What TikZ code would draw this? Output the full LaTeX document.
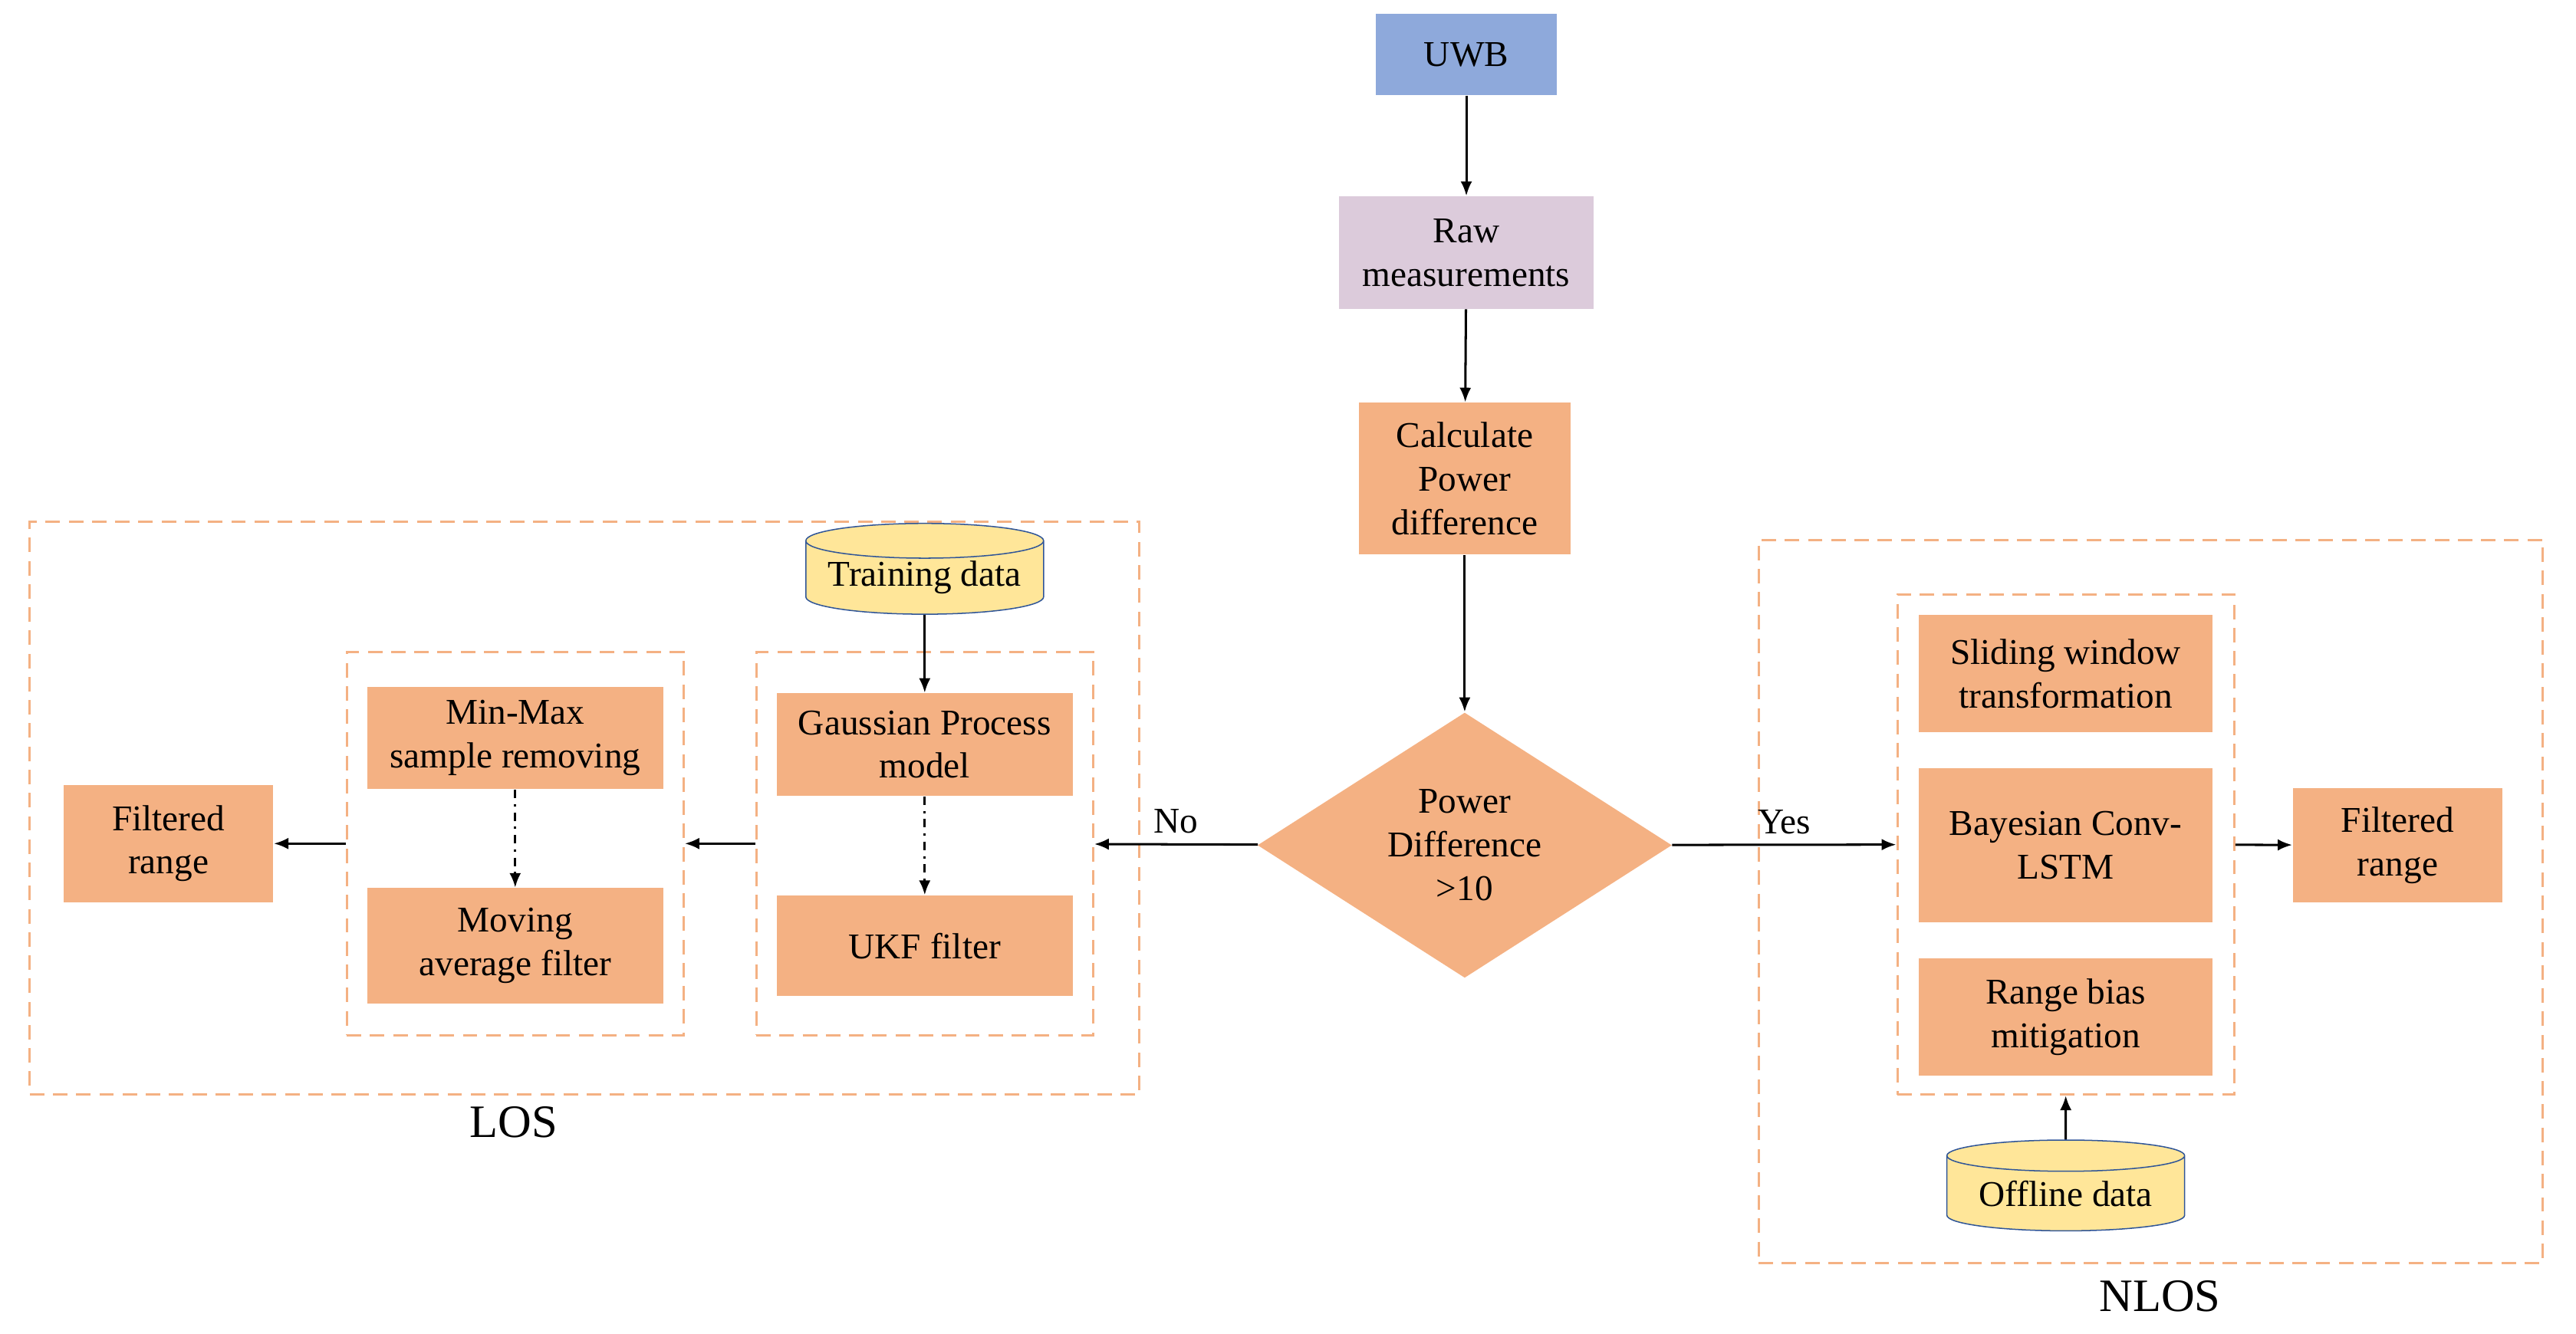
\documentclass[tikz,border=0pt]{standalone}
\usepackage{fontspec}
\setmainfont{Liberation Serif}
\usetikzlibrary{shapes.geometric, arrows.meta}

\definecolor{uwbblue}{HTML}{8EA9DB}
\definecolor{rawpink}{HTML}{DCCBDB}
\definecolor{procorange}{HTML}{F4B183}
\definecolor{datayellow}{HTML}{FFE699}
\definecolor{datablue}{HTML}{2F5597}

\tikzset{
  proc/.style={draw=none, fill=procorange, align=center, inner sep=0pt,
    font=\fontsize{12.5}{15}\selectfont},
  group/.style={draw=procorange, dashed, dash pattern=on 5pt off 3pt,
    thick, inner sep=0pt},
  store/.style={cylinder, shape border rotate=90, aspect=0.18, draw=datablue,
    fill=datayellow, inner sep=0pt, font=\fontsize{12.5}{15}\selectfont},
  flow/.style={-{Latex[length=5pt,width=4pt]}, thick},
  dflow/.style={flow, dash dot},
}

\begin{document}
\begin{tikzpicture}[x=0.02cm,y=-0.02cm]
      \useasboundingbox (0,0) rectangle (1560,808);

      % main column
      \node[proc, fill=uwbblue, minimum width=110*0.02cm, minimum height=49*0.02cm]
            (uwb) at (888,33) {UWB};
      \node[proc, fill=rawpink, minimum width=154*0.02cm, minimum height=68*0.02cm]
            (raw) at (888,153) {Raw\\measurements};
      \node[proc, minimum width=128*0.02cm, minimum height=92*0.02cm]
            (calc) at (887,290) {Calculate\\Power\\difference};
      \node[diamond, fill=procorange, align=center, inner sep=0pt,
            minimum width=251*0.02cm, minimum height=114*0.02cm,
            font=\fontsize{12.5}{15}\selectfont]
            (power) at (887,512) {Power\\Difference\\>10};

      % LOS branch
      \node[group, minimum width=672*0.02cm, minimum height=347*0.02cm]
            (los) at (354,489.5) {};
      \node[font=\fontsize{16}{18}\selectfont] (loslabel) at (311,680) {LOS};
      \node[group, minimum width=204*0.02cm, minimum height=232*0.02cm]
            (gpgroup) at (560,511) {};
      \node[group, minimum width=204*0.02cm, minimum height=232*0.02cm]
            (mmgroup) at (312,511) {};
      \node[store, minimum width=144*0.02cm, minimum height=55*0.02cm]
            (train) at (560,350) {Training data};
      \node[proc, minimum width=179*0.02cm, minimum height=62*0.02cm]
            (gp) at (560,451) {Gaussian Process\\model};
      \node[proc, minimum width=179*0.02cm, minimum height=61*0.02cm]
            (ukf) at (560,573) {UKF filter};
      \node[proc, minimum width=179*0.02cm, minimum height=62*0.02cm]
            (minmax) at (312,447) {Min-Max\\sample removing};
      \node[proc, minimum width=179*0.02cm, minimum height=70*0.02cm]
            (moving) at (312,573) {Moving\\average filter};
      \node[proc, minimum width=127*0.02cm, minimum height=71*0.02cm]
            (losout) at (102,511) {Filtered\\range};

      % NLOS branch
      \node[group, minimum width=475*0.02cm, minimum height=438*0.02cm]
            (nlos) at (1302.5,546) {};
      \node[font=\fontsize{16}{18}\selectfont] (nloslabel) at (1308,785) {NLOS};
      \node[group, minimum width=204*0.02cm, minimum height=303*0.02cm]
            (dlgroup) at (1251,511.5) {};
      \node[proc, minimum width=178*0.02cm, minimum height=71*0.02cm]
            (slide) at (1251,408) {Sliding window\\transformation};
      \node[proc, minimum width=178*0.02cm, minimum height=93*0.02cm]
            (bayes) at (1251,512) {Bayesian Conv-\\LSTM};
      \node[proc, minimum width=178*0.02cm, minimum height=71*0.02cm]
            (bias) at (1251,616) {Range bias\\mitigation};
      \node[proc, minimum width=127*0.02cm, minimum height=69*0.02cm]
            (nlosout) at (1452,512) {Filtered\\range};
      \node[store, minimum width=144*0.02cm, minimum height=55*0.02cm]
            (offline) at (1251,723) {Offline data};

      % connectors
      \draw[flow] (uwb) -- (raw);
      \draw[flow] (raw) -- (calc);
      \draw[flow] (calc) -- (power);
      \draw[flow] (power) -- (gpgroup)
            node[midway, above, font=\fontsize{12.5}{15}\selectfont] {No};
      \draw[flow] (gpgroup) -- (mmgroup);
      \draw[flow] (mmgroup) -- (losout);
      \draw[flow] (train) -- (gp);
      \draw[dflow] (gp) -- (ukf);
      \draw[dflow] (minmax) -- (moving);
      \draw[flow] (power) -- (dlgroup)
            node[midway, above, font=\fontsize{12.5}{15}\selectfont] {Yes};
      \draw[flow] (dlgroup) -- (nlosout);
      \draw[flow] (offline) -- (dlgroup);

\end{tikzpicture}
\end{document}
